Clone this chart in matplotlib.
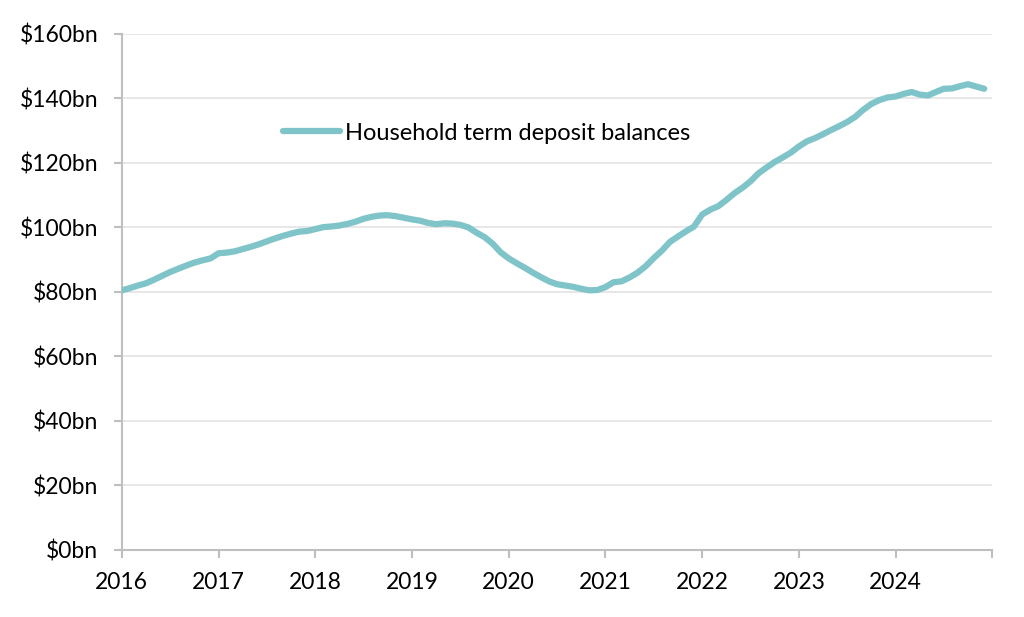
import numpy as np
import matplotlib
matplotlib.use("Agg")
import matplotlib.pyplot as plt
from matplotlib.ticker import FuncFormatter

# Household term deposit balances, monthly Jan 2016 - Dec 2024 ($bn)
start_year = 2016
balances = [
    # 2016
    80.5, 81.2, 82.0, 82.7, 83.8, 85.0, 86.2, 87.2, 88.2, 89.1, 89.8, 90.4,
    # 2017
    92.0, 92.2, 92.6, 93.3, 94.0, 94.8, 95.7, 96.6, 97.4, 98.1, 98.7, 98.9,
    # 2018
    99.5, 100.1, 100.3, 100.6, 101.1, 101.8, 102.7, 103.3, 103.7, 103.8, 103.5, 103.0,
    # 2019
    102.5, 102.1, 101.4, 101.0, 101.3, 101.2, 100.8, 100.0, 98.4, 97.0, 95.0, 92.3,
    # 2020
    90.4, 88.9, 87.5, 86.0, 84.6, 83.3, 82.4, 82.0, 81.6, 81.0, 80.5, 80.6,
    # 2021
    81.5, 83.0, 83.3, 84.5, 86.0, 88.0, 90.5, 92.8, 95.5, 97.2, 98.8, 100.3,
    # 2022
    104.0, 105.5, 106.6, 108.5, 110.6, 112.3, 114.3, 116.8, 118.6, 120.3, 121.7, 123.2,
    # 2023
    125.1, 126.7, 127.7, 128.9, 130.2, 131.4, 132.7, 134.3, 136.5, 138.3, 139.5, 140.3,
    # 2024
    140.6, 141.4, 142.0, 141.2, 140.9, 142.0, 143.0, 143.1, 143.8, 144.4, 143.7, 143.0,
]
series_label = "Household term deposit balances"
year_ticks = list(range(2016, 2026))
year_labels = [str(y) for y in range(2016, 2025)] + [""]
y_ticks = list(range(0, 161, 20))

line_color = "#7fc4c9"
axis_grey = "#bfbfbf"
grid_grey = "#e3e3e3"

plt.rcParams["font.family"] = ["Lato", "DejaVu Sans"]

x = start_year + np.arange(len(balances)) / 12.0

fig = plt.figure(figsize=(10.24, 6.17), dpi=100)
ax = fig.add_axes([0.119, 0.1086, 0.850, 0.8364])

ax.plot(x, balances, color=line_color, lw=4.5, solid_capstyle="round",
        solid_joinstyle="round", label=series_label, zorder=3)

ax.set_xlim(2016, 2025)
ax.set_ylim(0, 160)
ax.set_xticks(year_ticks)
ax.set_xticklabels(year_labels)
ax.set_yticks(y_ticks)
ax.yaxis.set_major_formatter(FuncFormatter(lambda v, p: f"${v:.0f}bn"))

ax.grid(axis="y", color=grid_grey, lw=1.2, zorder=0)
ax.set_axisbelow(True)
for side in ("top", "right"):
    ax.spines[side].set_visible(False)
for side in ("left", "bottom"):
    ax.spines[side].set_color(axis_grey)
    ax.spines[side].set_linewidth(1.5)
ax.tick_params(axis="both", colors=axis_grey, length=6, width=1.5,
               labelcolor="black", labelsize=16.5)
ax.tick_params(axis="x", pad=10)
ax.tick_params(axis="y", pad=11)

leg = ax.legend(loc="center left", bbox_to_anchor=(0.185, 0.808), frameon=False,
                fontsize=17, handlelength=2.4, handletextpad=0.25,
                borderpad=0, borderaxespad=0)

fig.savefig("out.png", dpi=100)
